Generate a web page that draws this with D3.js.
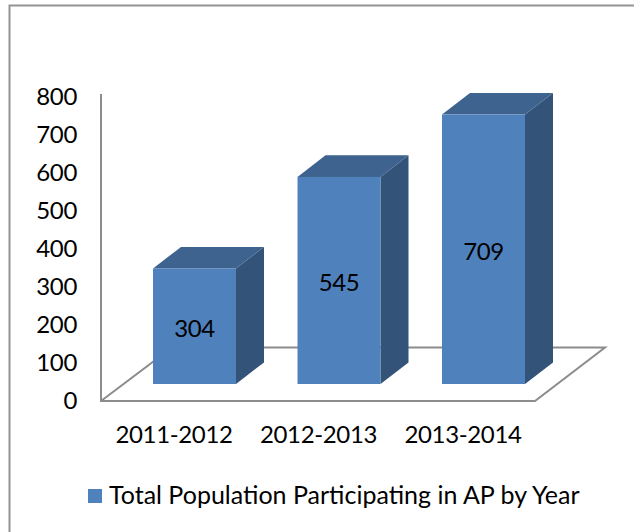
<!DOCTYPE html>
<html><head><meta charset="utf-8">
<script src="https://cdn.jsdelivr.net/npm/d3@7"></script>
<style>html,body{margin:0;padding:0;background:#fff}svg{display:block}text{font-family:Lato,"Open Sans",sans-serif;fill:#000}</style>
</head><body><div id="chart"></div>
<script>
const categories = ["2011-2012","2012-2013","2013-2014"];
const values = [304,545,709];
const tickValues = [0,100,200,300,400,500,600,700,800];
const legendLabel = "Total Population Participating in AP by Year";

const W=634,H=532;
const svg=d3.select("#chart").append("svg").attr("width",W).attr("height",H);
svg.append("rect").attr("width",W).attr("height",H).attr("fill","#fff");
// chart frame
svg.append("path").attr("d","M9.5,532V5.5H634").attr("fill","none").attr("stroke","#949494").attr("stroke-width",2);

const grey="#8c8c8c";
const dx=28,dy=21.6;
const floorY=401, backY=347.5;
const x=d3.scalePoint().domain(categories).range([194.5,483.5]);
const barW=83;
const yFront=d3.scaleLinear().domain([0,800]).range([384,80]);
const yWall=d3.scaleLinear().domain([0,800]).range([400,96]);
const fontSize=24, spacing="-0.35px";

// floor and wall
svg.append("path").attr("d",`M101,94V${floorY}H535L605,${backY}H172L101,${floorY}`).attr("fill","none").attr("stroke",grey).attr("stroke-width",2);

// bars
const g=svg.selectAll("g.bar").data(categories.map((c,i)=>({c,v:values[i]}))).join("g").attr("class","bar");
g.append("path").attr("fill","#335379").attr("d",d=>{const r=x(d.c)+barW/2,t=yFront(d.v),b=yFront(0);
  return `M${r},${t}L${r+dx},${t-dy}V${b-dy}L${r},${b}Z`;});
g.append("path").attr("fill","#3e638f").attr("d",d=>{const l=x(d.c)-barW/2,r=l+barW,t=yFront(d.v);
  return `M${l},${t}L${l+dx},${t-dy}H${r+dx}L${r},${t}Z`;});
g.append("rect").attr("fill","#4f81bd").attr("x",d=>x(d.c)-barW/2).attr("width",barW)
  .attr("y",d=>yFront(d.v)).attr("height",d=>yFront(0)-yFront(d.v));
g.append("text").attr("text-anchor","middle").attr("font-size",fontSize).style("letter-spacing",spacing)
  .attr("x",d=>x(d.c)).attr("y",d=>(yFront(d.v)+yFront(0))/2+11).text(d=>d.v);

// axes
const yAxis=d3.axisLeft(yWall).tickValues(tickValues).tickSize(0).tickPadding(0);
const ya=svg.append("g").attr("transform","translate(77,0)").call(yAxis);
ya.select(".domain").remove();
ya.selectAll("text").attr("font-size",fontSize).attr("dy","0.36em").style("letter-spacing",spacing).style("font-family",'Lato,"Open Sans",sans-serif');

const xAxis=d3.axisBottom(x).tickSize(0).tickPadding(0);
const xa=svg.append("g").attr("transform","translate(-21,426)").call(xAxis);
xa.select(".domain").remove();
xa.selectAll("text").attr("font-size",fontSize).attr("dy","0.71em").style("letter-spacing",spacing).style("font-family",'Lato,"Open Sans",sans-serif');

// legend
svg.append("rect").attr("x",88).attr("y",489).attr("width",14).attr("height",14).attr("fill","#4f81bd");
svg.append("text").attr("x",109).attr("y",504).attr("font-size",25).text(legendLabel);
</script></body></html>
